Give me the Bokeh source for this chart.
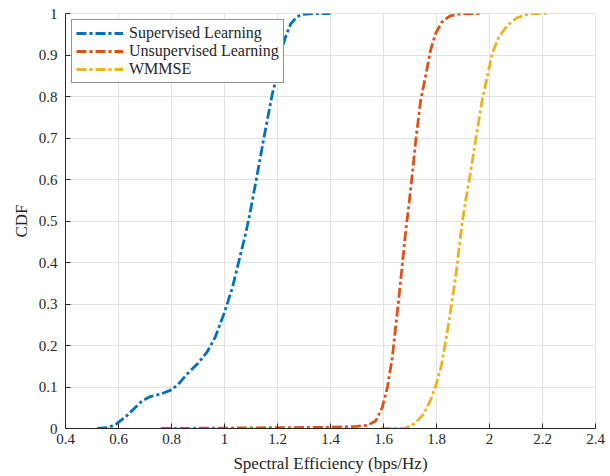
from bokeh.plotting import figure
from bokeh.models import FixedTicker, Range1d
from bokeh.embed import file_html
from bokeh.resources import INLINE

# ---- data ----
sup_x = [0.52, 0.56, 0.59, 0.63, 0.69, 0.72, 0.76, 0.80, 0.83, 0.86, 0.90, 0.935, 0.965,
         1.0, 1.03, 1.055, 1.08, 1.095, 1.12, 1.15, 1.18, 1.20, 1.21, 1.23, 1.25, 1.27,
         1.29, 1.34, 1.40]
sup_y = [0, 0.002, 0.01, 0.03, 0.067, 0.077, 0.083, 0.093, 0.11, 0.132, 0.157, 0.185, 0.22,
         0.28, 0.34, 0.405, 0.47, 0.515, 0.60, 0.705, 0.805, 0.855, 0.90, 0.943, 0.975, 0.99,
         0.998, 1.0, 1.0]

unsup_x = [0.76, 1.0, 1.2, 1.4, 1.5, 1.54, 1.57, 1.595, 1.615, 1.633, 1.645, 1.658, 1.671,
           1.683, 1.696, 1.71, 1.721, 1.74, 1.758, 1.777, 1.796, 1.82, 1.85, 1.89, 1.93, 1.965]
unsup_y = [0, 0.001, 0.002, 0.003, 0.005, 0.008, 0.018, 0.05, 0.1, 0.17, 0.24, 0.315, 0.395,
           0.47, 0.54, 0.62, 0.69, 0.79, 0.846, 0.91, 0.951, 0.979, 0.994, 0.999, 1.0, 1.0]

wmmse_x = [1.59, 1.68, 1.70, 1.718, 1.752, 1.782, 1.80, 1.818, 1.836, 1.853, 1.872, 1.884,
           1.897, 1.91, 1.928, 1.947, 1.972, 1.991, 2.01, 2.035, 2.067, 2.105, 2.15, 2.215]
wmmse_y = [0, 0, 0.006, 0.012, 0.035, 0.075, 0.11, 0.15, 0.215, 0.283, 0.363, 0.428,
           0.495, 0.55, 0.615, 0.693, 0.79, 0.846, 0.903, 0.943, 0.971, 0.99, 0.999, 1.0]

series_names = ["Supervised Learning", "Unsupervised Learning", "WMMSE"]
series_colors = ["#0072BD", "#D95319", "#EDB120"]

x_ticks = [0.4, 0.6, 0.8, 1.0, 1.2, 1.4, 1.6, 1.8, 2.0, 2.2, 2.4]
x_tick_labels = ["0.4", "0.6", "0.8", "1", "1.2", "1.4", "1.6", "1.8", "2", "2.2", "2.4"]
y_ticks = [0, 0.1, 0.2, 0.3, 0.4, 0.5, 0.6, 0.7, 0.8, 0.9, 1.0]
y_tick_labels = ["0", "0.1", "0.2", "0.3", "0.4", "0.5", "0.6", "0.7", "0.8", "0.9", "1"]

FONT = "Liberation Serif"
AX = "#262626"
GRID = "#e2e2e2"

p = figure(frame_width=530, frame_height=415,
           x_range=Range1d(0.4, 2.4), y_range=Range1d(0, 1),
           output_backend="svg", toolbar_location=None,
           min_border_left=65, min_border_right=12, min_border_top=13, min_border_bottom=46)

p.background_fill_color = "white"
p.border_fill_color = "white"
p.outline_line_color = GRID

for xs, ys, name, col in zip([sup_x, unsup_x, wmmse_x], [sup_y, unsup_y, wmmse_y],
                             series_names, series_colors):
    p.line(xs, ys, line_color=col, line_width=2.8, line_dash="10 3 3 3",
           legend_label=name)

# axes
p.xaxis.ticker = FixedTicker(ticks=x_ticks)
p.yaxis.ticker = FixedTicker(ticks=y_ticks)
p.xaxis.major_label_overrides = dict(zip(x_ticks, x_tick_labels))
p.yaxis.major_label_overrides = dict(zip(y_ticks, y_tick_labels))
for ax in (p.xaxis, p.yaxis):
    ax.axis_line_color = AX
    ax.axis_line_width = 1
    ax.major_tick_line_color = AX
    ax.major_tick_in = 5
    ax.major_tick_out = 0
    ax.minor_tick_line_color = None
    ax.major_label_text_font = FONT
    ax.major_label_text_font_size = "15px"
    ax.major_label_text_color = AX
    ax.axis_label_text_font = FONT
    ax.axis_label_text_font_size = "17px"
    ax.axis_label_text_font_style = "normal"
    ax.axis_label_text_color = AX
p.xaxis.axis_label = "Spectral Efficiency (bps/Hz)"
p.yaxis.axis_label = "CDF"
p.xaxis.major_label_standoff = 5
p.yaxis.major_label_standoff = 8
p.xaxis.axis_label_standoff = 7
p.yaxis.axis_label_standoff = 5

p.xgrid.grid_line_color = GRID
p.ygrid.grid_line_color = GRID
p.xgrid.grid_line_width = 1
p.ygrid.grid_line_width = 1

lg = p.legend[0]
lg.location = "top_left"
lg.margin = 6
lg.padding = 4
lg.spacing = 0
lg.glyph_width = 47
lg.glyph_height = 18
lg.label_height = 18
lg.label_standoff = 6
lg.label_text_font = FONT
lg.label_text_font_size = "16px"
lg.label_text_color = AX
lg.border_line_color = AX
lg.border_line_width = 1
lg.background_fill_color = "white"
lg.background_fill_alpha = 1

open("out.html", "w").write(file_html(p, INLINE))
